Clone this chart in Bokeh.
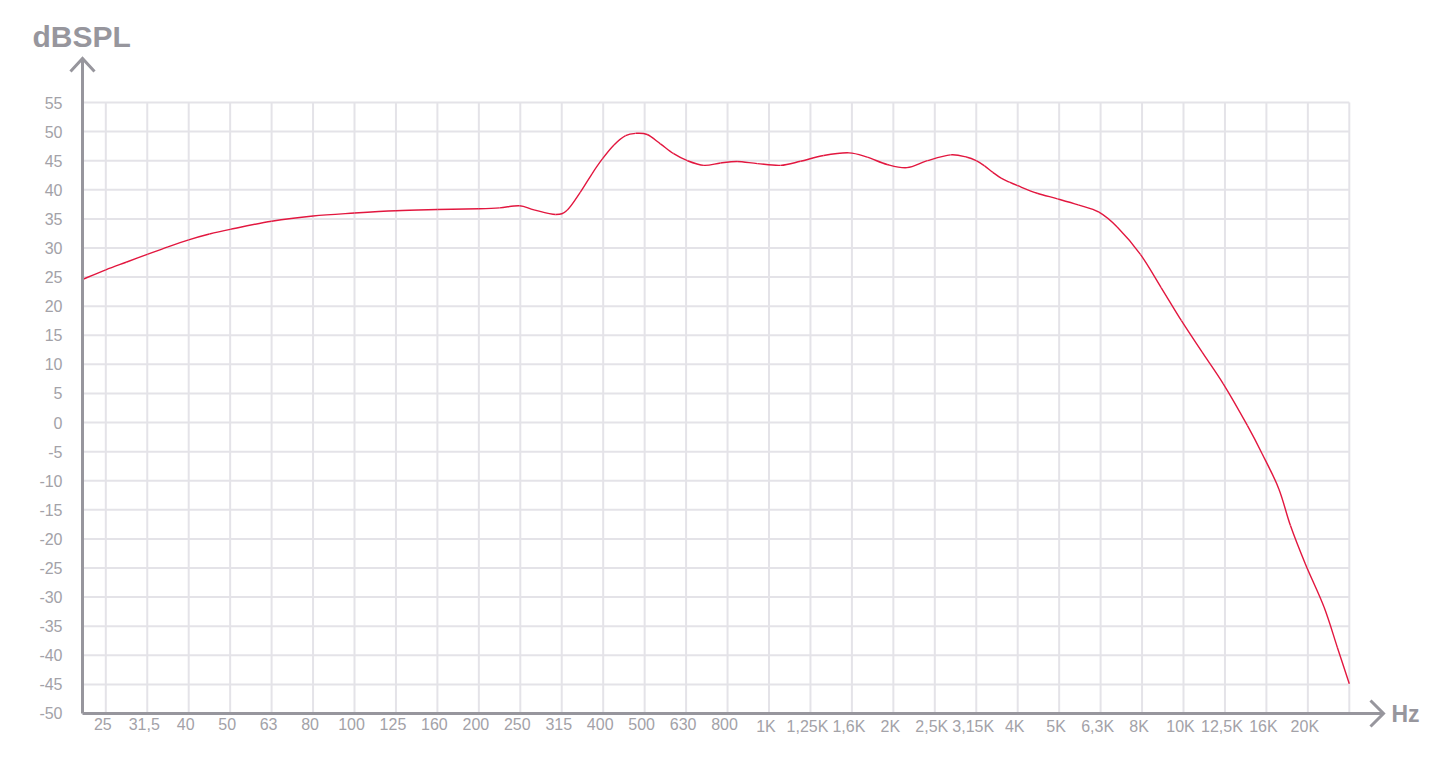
from bokeh.plotting import figure
from bokeh.models import Range1d
from bokeh.embed import file_html
from bokeh.resources import INLINE
from bokeh.core.properties import value

# ---------------- data ----------------
freq_labels = ["25", "31,5", "40", "50", "63", "80", "100", "125", "160", "200",
               "250", "315", "400", "500", "630", "800", "1K", "1,25K", "1,6K", "2K",
               "2,5K", "3,15K", "4K", "5K", "6,3K", "8K", "10K", "12,5K", "16K", "20K"]
db_ticks = [-50, -45, -40, -35, -30, -25, -20, -15, -10, -5, 0,
            5, 10, 15, 20, 25, 30, 35, 40, 45, 50, 55]

# curve position in third-octave bands (0 = 25 Hz) and level in dBSPL
curve_band = [-0.56, 0.0, 0.49, 1.0, 1.5, 2.0, 2.5, 3.0, 4.0, 5.0, 6.0, 7.0, 8.0, 9.0, 9.5,
              9.98, 10.33, 10.85, 11.13, 11.45, 11.73, 11.98, 12.26, 12.54, 12.78, 13.06,
              13.38, 13.70, 14.03, 14.43, 14.83, 15.23, 15.72, 16.28, 16.76, 17.32, 17.93,
              18.37, 18.85, 19.33, 19.82, 20.38, 20.78, 21.0, 21.2, 21.4, 21.6, 21.8,
              22.0, 22.47, 22.96, 23.46, 23.96, 24.40, 24.96, 25.46, 25.95, 26.45, 26.96,
              27.54, 27.90, 28.30, 28.58, 28.94, 29.39, 29.71, 30.0]
curve_db = [24.6, 26.25, 27.55, 28.9, 30.2, 31.4, 32.4, 33.2, 34.6, 35.5, 36.0, 36.4, 36.6, 36.75, 36.9,
            37.25, 36.55, 35.75, 36.5, 39.6, 42.75, 45.3, 47.7, 49.3, 49.7, 49.5,
            47.9, 46.2, 45.0, 44.2, 44.6, 44.85, 44.5, 44.2, 44.9, 45.9, 46.35,
            45.6, 44.35, 43.8, 45.0, 46.0, 45.6, 45.0, 44.1, 43.0, 42.0, 41.3,
            40.7, 39.4, 38.45, 37.4, 36.15, 33.6, 28.9, 23.2, 17.5, 12.1, 6.65,
            -0.5, -5.4, -11.4, -17.7, -24.3, -31.7, -38.6, -44.9]

# ---------------- layout ----------------
W, H = 1426, 753
PX_X = 41.45          # pixels per band
PX_Y = 5.819          # pixels per dB
ORIGIN_PX = 105.3     # x pixel of band 0
TOP55_PX = 102.0      # y pixel of 55 dB


def bx(px):
    return (px - ORIGIN_PX) / PX_X


def by(py):
    return 55 - (py - TOP55_PX) / PX_Y


AXIS_X = bx(82)       # y-axis position
N_BANDS = len(freq_labels)

grid_c = "#e4e3e8"
axis_c = "#97969d"
label_c = "#a3a2a8"
font = value("Liberation Sans")

p = figure(width=W, height=H, output_backend="svg", toolbar_location=None,
           x_range=Range1d(bx(0), bx(W)), y_range=Range1d(by(H), by(0)),
           x_axis_type=None, y_axis_type=None, min_border=0,
           min_border_left=0, min_border_right=0, min_border_top=0, min_border_bottom=0)
p.outline_line_color = None
p.xgrid.visible = False
p.ygrid.visible = False
p.background_fill_color = "white"

# grid
vx = list(range(N_BANDS + 1))
p.segment(x0=vx, y0=[db_ticks[0]] * len(vx), x1=vx, y1=[db_ticks[-1]] * len(vx),
          line_color=grid_c, line_width=2)
hy = db_ticks[1:]
p.segment(x0=[AXIS_X] * len(hy), y0=hy, x1=[N_BANDS] * len(hy), y1=hy,
          line_color=grid_c, line_width=2)

# curve: smooth path through the read points (Catmull-Rom drawn as cubic Bezier pieces)
n = len(curve_band)
bx0, by0, bx1, by1, cx0, cy0, cx1, cy1 = [], [], [], [], [], [], [], []
for i in range(n - 1):
    a = max(i - 1, 0)
    d = min(i + 2, n - 1)
    xa, ya = curve_band[a], curve_db[a]
    xb, yb = curve_band[i], curve_db[i]
    xc, yc = curve_band[i + 1], curve_db[i + 1]
    xd, yd = curve_band[d], curve_db[d]
    bx0.append(xb); by0.append(yb); bx1.append(xc); by1.append(yc)
    cx0.append(xb + (xc - xa) / 6); cy0.append(yb + (yc - ya) / 6)
    cx1.append(xc - (xd - xb) / 6); cy1.append(yc - (yd - yb) / 6)
p.bezier(x0=bx0, y0=by0, x1=bx1, y1=by1, cx0=cx0, cy0=cy0, cx1=cx1, cy1=cy1,
         line_color="#e2173f", line_width=1.4)

# axes with arrows
tip_y = by(58)
tip_x = bx(1383)
p.line([AXIS_X, AXIS_X], [db_ticks[0], tip_y], line_color=axis_c, line_width=3)
p.line([AXIS_X, tip_x], [db_ticks[0], db_ticks[0]], line_color=axis_c, line_width=3)
p.line([AXIS_X - 12 / PX_X, AXIS_X, AXIS_X + 12 / PX_X], [tip_y - 13 / PX_Y, tip_y, tip_y - 13 / PX_Y],
       line_color=axis_c, line_width=3, line_join="miter")
p.line([tip_x - 13 / PX_X, tip_x, tip_x - 13 / PX_X], [db_ticks[0] + 13 / PX_Y, db_ticks[0], db_ticks[0] - 13 / PX_Y],
       line_color=axis_c, line_width=3, line_join="miter")

# tick labels
p.text(x=[AXIS_X] * len(db_ticks), y=db_ticks, text=[str(v) for v in db_ticks],
       x_offset=-20, text_align="right", text_baseline="middle",
       text_font=font, text_font_size="16px", text_color=label_c)
p.text(x=list(range(N_BANDS)), y=[db_ticks[0]] * N_BANDS, text=freq_labels,
       x_offset=-3, y_offset=5, text_align="center", text_baseline="top",
       text_font=font, text_font_size="16px", text_color=label_c)

# axis titles
p.text(x=[bx(32)], y=[by(36)], text=["dBSPL"], text_align="left", text_baseline="middle",
       text_font=font, text_font_size="30px", text_font_style="bold", text_color=axis_c)
p.text(x=[bx(1391)], y=[by(713)], text=["Hz"], text_align="left", text_baseline="middle",
       text_font=font, text_font_size="23px", text_font_style="bold", text_color=axis_c)

open("out.html", "w").write(file_html(p, INLINE))
